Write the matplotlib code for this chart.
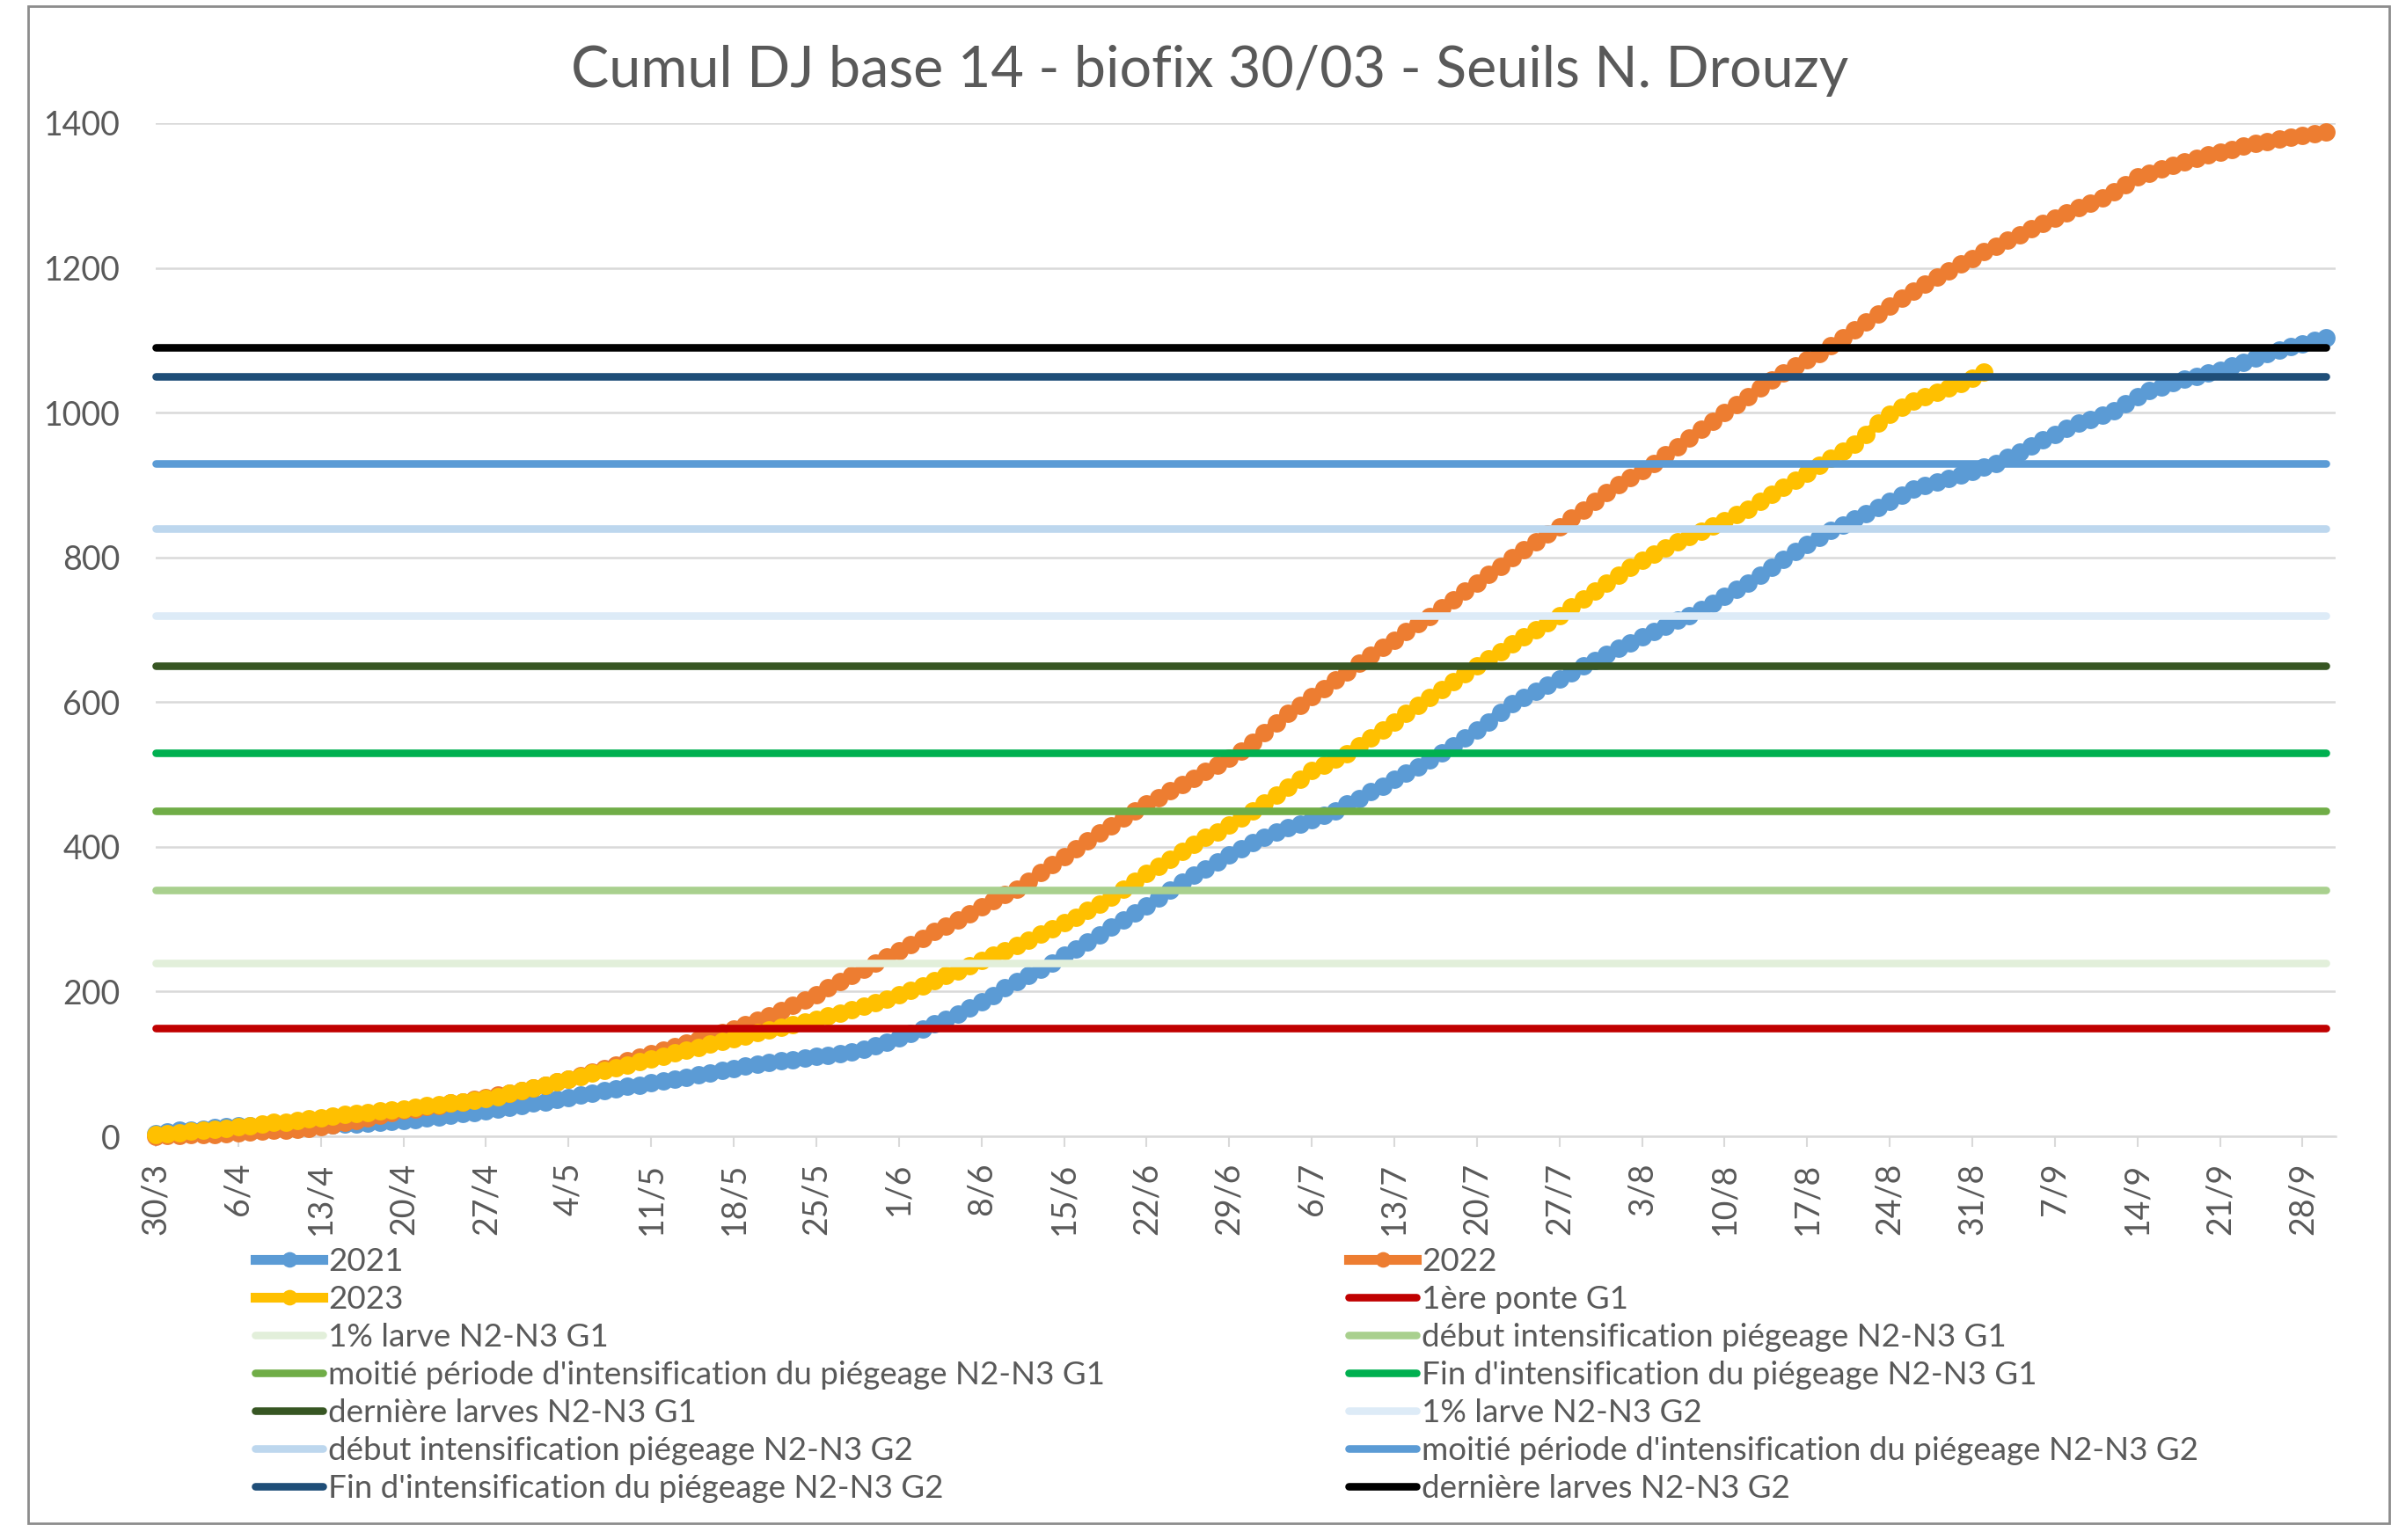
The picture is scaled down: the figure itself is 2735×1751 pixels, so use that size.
import matplotlib.pyplot as plt
from matplotlib.patches import Rectangle
import numpy as np

plt.rcParams['font.family'] = ['Lato', 'DejaVu Sans']

# une étiquette par semaine depuis le biofix du 30/03
date_labels = ['30/3', '6/4', '13/4', '20/4', '27/4', '4/5', '11/5', '18/5', '25/5',
               '1/6', '8/6', '15/6', '22/6', '29/6', '6/7', '13/7', '20/7', '27/7',
               '3/8', '10/8', '17/8', '24/8', '31/8', '7/9', '14/9', '21/9', '28/9']

# cumul journalier des degrés-jours (base 14)
cumul_2021 = [4, 6, 8, 9, 10, 12, 13, 14,
              14, 15, 15, 15, 16, 16, 16,
              16, 17, 17, 18, 19, 21, 22,
              23, 25, 27, 29, 31, 33, 35,
              38, 40, 43, 46, 48, 51, 54,
              57, 60, 63, 66, 69, 71, 74,
              76, 79, 82, 85, 88, 91, 94,
              97, 100, 102, 104, 106, 108, 110,
              112, 114, 117, 120, 125, 130, 136,
              142, 148, 155, 162, 169, 177, 186,
              195, 205, 214, 222, 231, 240, 250,
              259, 268, 278, 289, 299, 309, 319,
              329, 340, 351, 361, 370, 379, 389,
              398, 406, 413, 420, 426, 432, 438,
              444, 450, 459, 467, 476, 484, 493,
              502, 511, 520, 530, 540, 550, 561,
              573, 586, 598, 607, 615, 623, 632,
              641, 650, 658, 666, 674, 682, 690,
              698, 705, 713, 720, 728, 737, 746,
              756, 765, 775, 786, 797, 808, 818,
              827, 837, 845, 853, 861, 869, 877,
              886, 894, 899, 904, 909, 914, 919,
              925, 930, 938, 946, 954, 962, 970,
              978, 985, 991, 997, 1003, 1012, 1022,
              1031, 1036, 1041, 1046, 1050, 1055, 1059,
              1064, 1070, 1076, 1082, 1087, 1091, 1095,
              1100, 1104]

cumul_2022 = [0, 1, 1, 2, 3, 3, 4, 5,
              6, 7, 8, 9, 10, 11, 13,
              16, 19, 22, 25, 29, 33, 36,
              38, 41, 43, 46, 48, 51, 54,
              57, 60, 63, 67, 71, 75, 79,
              84, 89, 94, 99, 104, 109, 114,
              119, 124, 129, 134, 138, 143, 148,
              154, 160, 167, 174, 181, 188, 196,
              205, 214, 222, 231, 240, 248, 257,
              265, 274, 283, 291, 299, 308, 317,
              326, 334, 342, 353, 364, 375, 386,
              397, 408, 419, 429, 440, 450, 459,
              468, 477, 486, 495, 504, 513, 522,
              532, 545, 558, 571, 584, 596, 608,
              619, 631, 642, 654, 665, 676, 686,
              697, 708, 718, 730, 741, 753, 765,
              777, 788, 800, 811, 821, 832, 842,
              854, 865, 877, 889, 900, 910, 920,
              930, 942, 953, 965, 977, 988, 1000,
              1011, 1022, 1034, 1045, 1055, 1064, 1073,
              1082, 1092, 1103, 1114, 1125, 1136, 1147,
              1158, 1168, 1177, 1187, 1196, 1205, 1213,
              1222, 1230, 1238, 1246, 1254, 1262, 1269,
              1276, 1283, 1290, 1297, 1305, 1315, 1326,
              1331, 1337, 1342, 1347, 1351, 1356, 1360,
              1364, 1368, 1372, 1375, 1378, 1381, 1383,
              1386, 1388]

cumul_2023 = [2, 4, 5, 7, 8, 10, 11, 13,
              15, 17, 19, 20, 22, 24, 26,
              28, 30, 31, 33, 35, 36, 38,
              40, 42, 44, 46, 48, 50, 52,
              55, 59, 63, 67, 71, 75, 79,
              83, 87, 91, 95, 99, 103, 107,
              111, 115, 119, 123, 127, 131, 135,
              139, 143, 147, 151, 154, 158, 162,
              166, 170, 175, 180, 185, 190, 196,
              202, 208, 215, 222, 229, 236, 243,
              250, 257, 264, 271, 279, 287, 295,
              303, 312, 321, 331, 341, 352, 363,
              373, 383, 394, 404, 413, 421, 430,
              440, 450, 461, 472, 483, 494, 505,
              513, 521, 529, 540, 551, 562, 573,
              584, 595, 606, 617, 628, 639, 650,
              660, 670, 680, 690, 700, 710, 720,
              731, 742, 753, 764, 775, 786, 796,
              805, 813, 821, 829, 836, 843, 851,
              859, 867, 877, 887, 897, 906, 916,
              927, 937, 947, 957, 970, 985, 998,
              1008, 1016, 1022, 1028, 1034, 1040, 1047,
              1056]

annees = ['2021', '2022', '2023']
couleurs_annees = ['#5B9BD5', '#ED7D31', '#FFC000']

# seuils N. Drouzy
seuil_labels = ['1ère ponte G1',
                '1% larve N2-N3 G1',
                'début intensification piégeage N2-N3 G1',
                "moitié période d'intensification du piégeage N2-N3 G1",
                "Fin d'intensification du piégeage N2-N3 G1",
                'dernière larves N2-N3 G1',
                '1% larve N2-N3 G2',
                'début intensification piégeage N2-N3 G2',
                "moitié période d'intensification du piégeage N2-N3 G2",
                "Fin d'intensification du piégeage N2-N3 G2",
                'dernière larves N2-N3 G2']
seuils = [150, 240, 340, 450, 530, 650, 720, 840, 930, 1050, 1090]
couleurs_seuils = ['#C00000', '#E2EFDA', '#A9D08E', '#70AD47', '#00B050', '#375623',
                   '#DDEBF7', '#BDD7EE', '#5B9BD5', '#1F4E78', '#000000']

W, H = 2735, 1751
gris = '#595959'
fig = plt.figure(figsize=(W / 100, H / 100), dpi=100)
ax = fig.add_axes([177 / W, 1 - 1292 / H, (2655 - 177) / W, (1292 - 140) / H])

jours = np.arange(len(cumul_2022))
handles = []
for nom, vals, c in zip(annees, [cumul_2021, cumul_2022, cumul_2023], couleurs_annees):
    h, = ax.plot(np.arange(len(vals)), vals, color=c, lw=8, marker='o', ms=15, mew=0,
                 clip_on=False, zorder=3, label=nom)
    handles.append(h)
for nom, v, c in zip(seuil_labels, seuils, couleurs_seuils):
    h, = ax.plot(jours, np.full(len(jours), v), color=c, lw=6.2, solid_capstyle='round',
                 clip_on=False, zorder=4, label=nom)
    handles.append(h)

ax.set_xlim(0, 184.8)
ax.set_ylim(0, 1400)
ax.set_yticks(np.arange(0, 1401, 200))
ax.set_xticks(np.arange(len(date_labels)) * 7)
ax.set_xticklabels(date_labels, rotation=90)
ax.grid(axis='y', color='#d9d9d9', lw=1.8)
ax.set_axisbelow(True)
for s in ['top', 'right', 'left']:
    ax.spines[s].set_visible(False)
ax.spines['bottom'].set_color('#d9d9d9')
ax.spines['bottom'].set_linewidth(1.8)
ax.tick_params(axis='y', length=0, pad=29, labelsize=27, labelcolor=gris)
ax.tick_params(axis='x', length=8.5, width=1.5, color='#d9d9d9', pad=13,
               labelsize=27, labelcolor=gris)

fig.text(1375 / W, 1 - 80 / H, 'Cumul DJ base 14 - biofix 30/03 - Seuils N. Drouzy',
         ha='center', va='center', fontsize=46.5, color=gris)

# légende sur deux colonnes, remplie ligne par ligne comme dans Excel
kw = dict(loc='upper left', frameon=False, fontsize=26.5, labelcolor=gris,
          handlelength=2.1, handletextpad=0.15, labelspacing=0.27,
          borderpad=0, borderaxespad=0, numpoints=1, markerscale=0.85)
gauche, droite = handles[0::2], handles[1::2]
fig.legend(gauche, [h.get_label() for h in gauche], bbox_to_anchor=(290 / W, 1 - 1418 / H), **kw)
fig.legend(droite, [h.get_label() for h in droite], bbox_to_anchor=(1533 / W, 1 - 1418 / H), **kw)

fig.add_artist(Rectangle((32 / W, 1 - 1732 / H), (2716 - 32) / W, (1732 - 7) / H,
                         transform=fig.transFigure, fill=False, ec='#8c8c8c', lw=2))

fig.savefig('out.png', dpi=100)
